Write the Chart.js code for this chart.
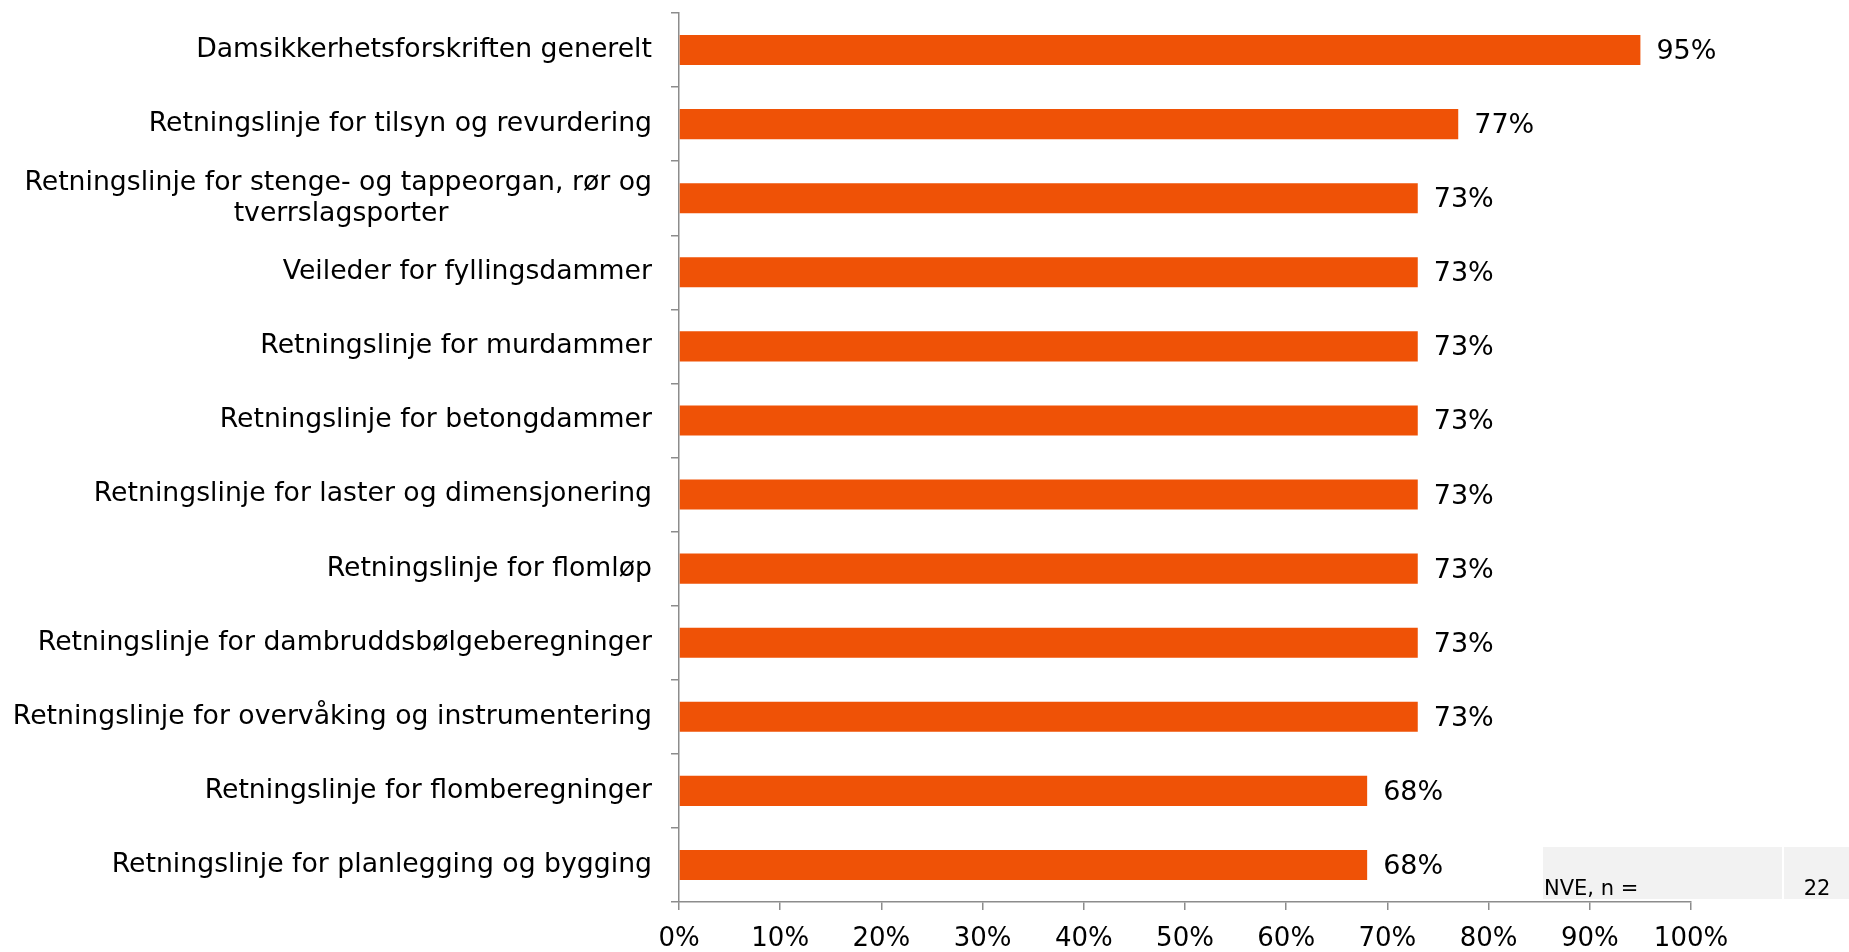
<!DOCTYPE html>
<html>
<head>
<meta charset="utf-8">
<script src="https://cdn.jsdelivr.net/npm/chart.js@4/dist/chart.umd.min.js"></script>
<style>
  html, body { margin: 0; padding: 0; background: #fff; }
  #wrap { width: 1849px; height: 952px; position: relative; }
</style>
</head>
<body>
<div id="wrap"><canvas id="surveyChart"></canvas></div>
<script>
// data, top to bottom
const categories = [
  "Damsikkerhetsforskriften generelt",
  "Retningslinje for tilsyn og revurdering",
  ["Retningslinje for stenge- og tappeorgan, rør og", "tverrslagsporter" + "\u00a0".repeat(24)],
  "Veileder for fyllingsdammer",
  "Retningslinje for murdammer",
  "Retningslinje for betongdammer",
  "Retningslinje for laster og dimensjonering",
  "Retningslinje for flomløp",
  "Retningslinje for dambruddsbølgeberegninger",
  "Retningslinje for overvåking og instrumentering",
  "Retningslinje for flomberegninger",
  "Retningslinje for planlegging og bygging"
];
const values = [95, 77, 73, 73, 73, 73, 73, 73, 73, 73, 68, 68];
const xTicks = [0, 10, 20, 30, 40, 50, 60, 70, 80, 90, 100];
const sampleLabel = "NVE, n =";
const sampleSize = 22;

const FONT = '"DejaVu Sans", Verdana, sans-serif';
const AXIS_GREY = "#8c8c8c";

// percentage labels at the end of each bar
const valueLabels = {
  id: "valueLabels",
  afterDatasetsDraw(chart) {
    const ctx = chart.ctx;
    const meta = chart.getDatasetMeta(0);
    ctx.save();
    ctx.font = "27px " + FONT;
    ctx.fillStyle = "#000";
    ctx.textAlign = "left";
    ctx.textBaseline = "middle";
    meta.data.forEach((bar, i) => {
      ctx.fillText(values[i] + "%", bar.x + 16, bar.y + 2);
    });
    ctx.restore();
  }
};

// grey "NVE, n = 22" note in the bottom right corner
const sampleNote = {
  id: "sampleNote",
  afterDraw(chart) {
    const ctx = chart.ctx;
    const w = chart.width;
    ctx.save();
    ctx.fillStyle = "#f2f2f2";
    ctx.fillRect(w - 306, 847, 239, 52);
    ctx.fillRect(w - 65, 847, 65, 52);
    ctx.fillStyle = "#000";
    ctx.font = "21px " + FONT;
    ctx.textBaseline = "alphabetic";
    ctx.textAlign = "left";
    ctx.fillText(sampleLabel, w - 305, 895);
    ctx.textAlign = "center";
    ctx.fillText(String(sampleSize), w - 32, 895);
    ctx.restore();
  }
};

new Chart(document.getElementById("surveyChart"), {
  type: "bar",
  data: {
    labels: categories,
    datasets: [{
      data: values,
      backgroundColor: "#ef5206",
      borderWidth: 0,
      categoryPercentage: 1,
      barPercentage: 0.405
    }]
  },
  options: {
    indexAxis: "y",
    responsive: true,
    maintainAspectRatio: false,
    animation: false,
    layout: { padding: { top: 13, right: 158, bottom: 0, left: 0 } },
    plugins: {
      legend: { display: false },
      tooltip: { enabled: false }
    },
    scales: {
      x: {
        min: 0,
        max: 100,
        afterBuildTicks(scale) {
          scale.ticks = xTicks.map(v => ({ value: v }));
        },
        afterFit(scale) { scale.height = 50; },
        border: { color: AXIS_GREY, width: 1.5 },
        grid: { drawOnChartArea: false, color: AXIS_GREY, lineWidth: 1.5, tickLength: 8 },
        ticks: {
          color: "#000",
          font: { family: FONT, size: 26 },
          padding: 14,
          maxRotation: 0,
          callback: v => v + "%"
        }
      },
      y: {
        afterFit(scale) {
          scale.width = 679;
          // labels sit inside their bands, no extra room needed above/below
          scale.paddingTop = 0;
          scale.paddingBottom = 0;
        },
        border: { color: AXIS_GREY, width: 1.5 },
        grid: { offset: true, drawOnChartArea: false, color: AXIS_GREY, lineWidth: 1.5, tickLength: 8 },
        ticks: {
          color: "#000",
          font: { family: FONT, size: 26.7, lineHeight: 1.17 },
          padding: 19,
          autoSkip: false
        }
      }
    }
  },
  plugins: [valueLabels, sampleNote]
});
</script>
</body>
</html>
